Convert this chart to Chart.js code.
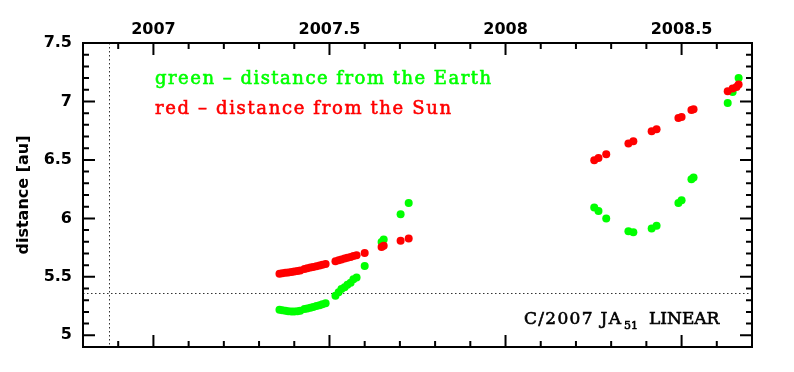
<!DOCTYPE html>
<html>
<head>
<meta charset="utf-8">
<script src="https://cdn.jsdelivr.net/npm/chart.js@4.4.0/dist/chart.umd.min.js"></script>
<style>
  html, body { margin: 0; padding: 0; background: #fff; }
  #wrap { width: 794px; height: 372px; }
</style>
</head>
<body>
<div id="wrap"><canvas id="comet" width="794" height="372"></canvas></div>
<script>
// observation epochs (decimal year)
const epochs = [
  2007.358, 2007.366, 2007.375, 2007.383, 2007.392, 2007.400, 2007.409, 2007.417,
  2007.429, 2007.437, 2007.446, 2007.454, 2007.463, 2007.472, 2007.480, 2007.489,
  2007.517, 2007.526, 2007.534, 2007.543, 2007.551, 2007.560, 2007.568, 2007.577,
  2007.600, 2007.648, 2007.654, 2007.702, 2007.725,
  2008.252, 2008.264, 2008.286, 2008.349, 2008.363, 2008.415, 2008.429,
  2008.491, 2008.500, 2008.528, 2008.534, 2008.631, 2008.645, 2008.656, 2008.662
];
// distance from the Sun [au]
const sunDist = [
  5.526, 5.530, 5.534, 5.538, 5.542, 5.546, 5.550, 5.555,
  5.568, 5.574, 5.580, 5.585, 5.591, 5.597, 5.603, 5.609,
  5.634, 5.641, 5.648, 5.656, 5.663, 5.670, 5.678, 5.685,
  5.705, 5.756, 5.767, 5.808, 5.828,
  6.497, 6.517, 6.549, 6.640, 6.660, 6.745, 6.762,
  6.859, 6.868, 6.928, 6.934, 7.087, 7.110, 7.124, 7.144
];
// distance from the Earth [au]
const earthDist = [
  5.218, 5.214, 5.210, 5.206, 5.204, 5.204, 5.206, 5.209,
  5.224, 5.230, 5.236, 5.243, 5.250, 5.258, 5.266, 5.275,
  5.338, 5.369, 5.395, 5.412, 5.433, 5.450, 5.480, 5.495,
  5.592, 5.799, 5.820, 6.036, 6.132,
  6.093, 6.064, 5.999, 5.891, 5.882, 5.914, 5.936,
  6.132, 6.156, 6.335, 6.350, 6.987, 7.081, null, 7.201
];
const xTickLabels = [2007, 2007.5, 2008, 2008.5];
const yTickLabels = [5, 5.5, 6, 6.5, 7, 7.5];
// perihelion (dotted lines)
const periEpoch = 2006.873;
const periDist = 5.365;

const toPoints = vals => epochs.map((t, i) => ({ x: t, y: vals[i] }));

const noteFont = '18px "DejaVu Serif"';
const labelFont = '17px "DejaVu Serif"';
const subFont = '11px "DejaVu Serif"';

// spread a string over a given width, slightly heavier than the regular face
function spreadText(ctx, s, x, y, width, color) {
  ctx.letterSpacing = '0px';
  const natural = ctx.measureText(s).width;
  ctx.letterSpacing = Math.max(0, (width - natural) / (s.length - 1)).toFixed(2) + 'px';
  ctx.fillStyle = color;
  ctx.strokeStyle = color;
  ctx.lineWidth = 0.6;
  ctx.fillText(s, x, y);
  ctx.strokeText(s, x, y);
  ctx.letterSpacing = '0px';
}

const frame = {
  id: 'frame',
  beforeDatasetsDraw(chart) {
    const { ctx, chartArea: a, scales: { x, y } } = chart;
    ctx.save();
    ctx.strokeStyle = '#333';
    ctx.lineWidth = 1;
    ctx.setLineDash([1.5, 2.5]);
    const px = Math.round(x.getPixelForValue(periEpoch)) + 0.5;
    const py = Math.round(y.getPixelForValue(periDist)) + 0.5;
    ctx.beginPath();
    ctx.moveTo(px, a.top); ctx.lineTo(px, a.bottom);
    ctx.moveTo(a.left, py); ctx.lineTo(a.right, py);
    ctx.stroke();
    ctx.restore();
  },
  afterDraw(chart) {
    const { ctx, chartArea: a, scales: { x, y } } = chart;
    ctx.save();
    ctx.strokeStyle = '#000';
    ctx.lineWidth = 2;
    ctx.strokeRect(a.left, a.top, a.right - a.left, a.bottom - a.top);

    // inward ticks, minor every 0.1, major every 0.5
    for (let i = Math.ceil(x.min * 10 - 1e-6); i <= Math.floor(x.max * 10 + 1e-6); i++) {
      const p = x.getPixelForValue(i / 10);
      const len = i % 5 === 0 ? 12 : 6;
      ctx.beginPath();
      ctx.moveTo(p, a.top); ctx.lineTo(p, a.top + len);
      ctx.moveTo(p, a.bottom); ctx.lineTo(p, a.bottom - len);
      ctx.stroke();
    }
    for (let i = Math.ceil(y.min * 10 - 1e-6); i <= Math.floor(y.max * 10 + 1e-6); i++) {
      const p = y.getPixelForValue(i / 10);
      const len = i % 5 === 0 ? 12 : 6;
      ctx.beginPath();
      ctx.moveTo(a.left, p); ctx.lineTo(a.left + len, p);
      ctx.moveTo(a.right, p); ctx.lineTo(a.right - len, p);
      ctx.stroke();
    }

    ctx.font = noteFont;
    ctx.textBaseline = 'alphabetic';
    spreadText(ctx, 'green – distance from the Earth', 155, 84, 336, '#00ff00');
    spreadText(ctx, 'red – distance from the Sun', 155, 114, 296, '#ff0000');

    ctx.font = labelFont;
    spreadText(ctx, 'C/2007 JA', 524, 324, 97, '#000');
    ctx.font = subFont;
    spreadText(ctx, '51', 624, 329, 11, '#000');
    ctx.font = labelFont;
    spreadText(ctx, 'LINEAR', 649, 324, 67, '#000');
    ctx.restore();
  }
};

const tickFont = { family: 'DejaVu Sans', size: 16, weight: 'bold' };

new Chart(document.getElementById('comet'), {
  type: 'scatter',
  data: {
    datasets: [
      { label: 'Sun', data: toPoints(sunDist), backgroundColor: '#ff0000', borderWidth: 0, pointRadius: 4 },
      { label: 'Earth', data: toPoints(earthDist), backgroundColor: '#00ff00', borderWidth: 0, pointRadius: 4 }
    ]
  },
  options: {
    responsive: false,
    animation: false,
    layout: { padding: { left: 0, top: 0, right: 42, bottom: 25 } },
    plugins: { legend: { display: false }, tooltip: { enabled: false } },
    scales: {
      x: {
        type: 'linear',
        position: 'top',
        min: 2006.8,
        max: 2008.7,
        grid: { display: false, drawTicks: false },
        border: { display: false },
        afterBuildTicks: s => { s.ticks = xTickLabels.map(v => ({ value: v })); },
        afterFit: s => { s.height = 43; },
        ticks: { color: '#000', font: tickFont, padding: 4, maxRotation: 0, autoSkip: false, callback: v => String(v) }
      },
      y: {
        type: 'linear',
        position: 'left',
        min: 4.9,
        max: 7.5,
        grid: { display: false, drawTicks: false },
        border: { display: false },
        afterBuildTicks: s => { s.ticks = yTickLabels.map(v => ({ value: v })); },
        afterFit: s => { s.width = 83; },
        title: { display: true, text: 'distance [au]', color: '#000', font: tickFont, padding: { top: 14, bottom: 0 } },
        ticks: { color: '#000', font: tickFont, padding: 11, autoSkip: false, callback: v => String(v) }
      }
    }
  },
  plugins: [frame]
});
</script>
</body>
</html>
